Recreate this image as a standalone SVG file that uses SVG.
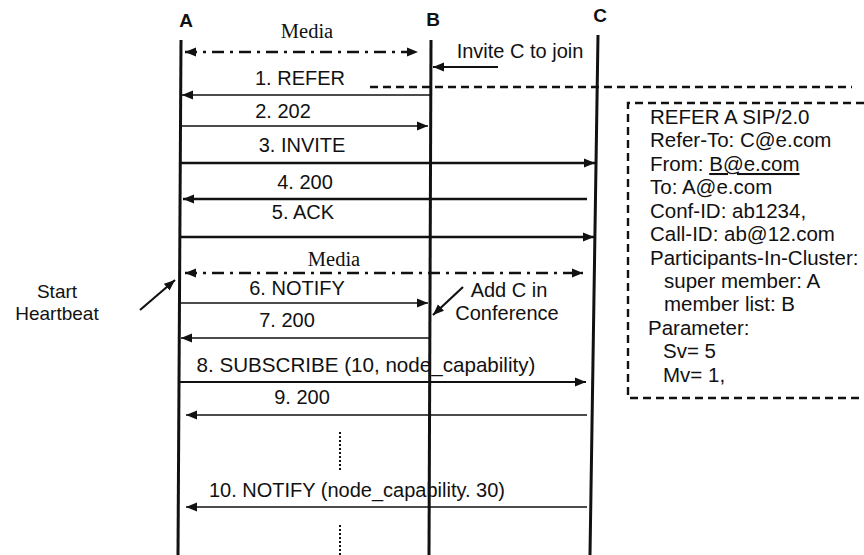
<svg xmlns="http://www.w3.org/2000/svg" width="864" height="555" viewBox="0 0 864 555">
<style>
.t{font-family:"Liberation Sans",Arial,sans-serif;font-size:20px;fill:#111}
.ts{font-family:"Liberation Serif","Times New Roman",serif;font-size:20.5px;fill:#111}
.h{font-family:"Liberation Sans",Arial,sans-serif;font-size:19px;font-weight:bold;fill:#111}
.bx{font-family:"Liberation Sans",Arial,sans-serif;font-size:20.5px;fill:#111}
.life{stroke:#111;stroke-width:3;fill:none}
.m{stroke:#111;stroke-width:1.6;fill:none;marker-end:url(#ah)}
.mt{stroke:#111;stroke-width:2.6;fill:none;marker-end:url(#ah)}
.dd{stroke:#111;stroke-width:2.6;fill:none;stroke-dasharray:12 6 3 6;marker-start:url(#ah);marker-end:url(#ah)}
.dot{stroke:#111;stroke-width:2;stroke-dasharray:2 2;fill:none}
.dash{stroke:#111;stroke-width:2.4;stroke-dasharray:8 5;fill:none}
</style>
<defs>
<marker id="ah" markerUnits="userSpaceOnUse" markerWidth="12" markerHeight="10" refX="11" refY="5" orient="auto-start-reverse">
<path d="M0,0.5 L11,5 L0,9.5 z" fill="#111"/>
</marker>
</defs>
<rect width="864" height="555" fill="#fff"/>
<g id="A">
<text class="h" x="186" y="27" text-anchor="middle">A</text>
<line class="life" x1="181" y1="40" x2="178" y2="555"/>
</g>
<g id="B">
<text class="h" x="433" y="26" text-anchor="middle">B</text>
<line class="life" x1="431" y1="40" x2="429" y2="555"/>
</g>
<g id="C">
<text class="h" x="600" y="22" text-anchor="middle">C</text>
<line class="life" x1="598" y1="35" x2="590" y2="555"/>
</g>
<g id="refer-box">
<path class="dash" d="M864,103 H628 V398 H864"/>
<text class="bx" x="650" y="124">REFER A SIP/2.0</text>
<text class="bx" x="650" y="147">Refer-To: C@e.com</text>
<text class="bx" x="650" y="171">From: <tspan text-decoration="underline">B@e.com</tspan></text>
<text class="bx" x="650" y="194">To: A@e.com</text>
<text class="bx" x="650" y="218">Conf-ID: ab1234,</text>
<text class="bx" x="650" y="241">Call-ID: ab@12.com</text>
<text class="bx" x="650" y="265">Participants-In-Cluster:</text>
<text class="bx" x="664" y="288">super member: A</text>
<text class="bx" x="664" y="311">member list: B</text>
<text class="bx" x="648" y="335">Parameter:</text>
<text class="bx" x="663" y="358">Sv= 5</text>
<text class="bx" x="663" y="382">Mv= 1,</text>
</g>
<g id="notes">
<text class="t" x="520" y="58" text-anchor="middle">Invite C to join</text>
<text class="t" x="57" y="298" text-anchor="middle" style="font-size:19px">Start</text>
<text class="t" x="57" y="320" text-anchor="middle" style="font-size:19px">Heartbeat</text>
<text class="t" x="509" y="297" text-anchor="middle">Add C in</text>
<text class="t" x="507" y="320" text-anchor="middle">Conference</text>
</g>
<g id="connectors">
<line class="dd" x1="185" y1="52" x2="418" y2="52"/>
<text class="ts" x="307" y="38" text-anchor="middle">Media</text>
<line class="mt" x1="498" y1="67" x2="433" y2="67" style="stroke-width:2"/>
<line class="dash" x1="370" y1="87" x2="852" y2="87"/>
<text class="t" x="300" y="85" text-anchor="middle">1. REFER</text>
<line class="m" x1="430" y1="95" x2="182" y2="95"/>
<text class="t" x="283" y="118" text-anchor="middle">2. 202</text>
<line class="m" x1="181" y1="126" x2="428" y2="126"/>
<text class="t" x="302" y="152" text-anchor="middle">3. INVITE</text>
<line class="mt" x1="181" y1="163" x2="595" y2="163"/>
<text class="t" x="305" y="189" text-anchor="middle">4. 200</text>
<line class="mt" x1="587" y1="199" x2="183" y2="199"/>
<text class="t" x="303" y="219" text-anchor="middle">5. ACK</text>
<line class="mt" x1="180" y1="237" x2="594" y2="237"/>
<text class="ts" x="334" y="266" text-anchor="middle">Media</text>
<line class="dd" x1="185" y1="273" x2="583" y2="273"/>
<text class="t" x="297" y="295" text-anchor="middle">6. NOTIFY</text>
<line class="m" x1="180" y1="303" x2="428" y2="303"/>
<text class="t" x="287" y="327" text-anchor="middle">7. 200</text>
<line class="m" x1="430" y1="338" x2="181" y2="338"/>
<text class="t" x="366" y="372" text-anchor="middle" style="font-size:20.6px">8. SUBSCRIBE (10, node_capability)</text>
<line class="m" x1="179" y1="382" x2="586" y2="382" style="stroke-width:2"/>
<text class="t" x="302" y="404" text-anchor="middle">9. 200</text>
<line class="m" x1="587" y1="415" x2="186" y2="415"/>
<line class="dot" x1="340" y1="432" x2="340" y2="470"/>
<text class="t" x="357" y="497" text-anchor="middle">10. NOTIFY (node_capability. 30)</text>
<line class="m" x1="587" y1="507" x2="186" y2="507"/>
<line class="dot" x1="340" y1="525" x2="340" y2="555"/>
<line class="m" x1="140" y1="310" x2="175" y2="280" style="stroke-width:2.2"/>
<line class="m" x1="463" y1="287" x2="433" y2="315" style="stroke-width:2.2"/>
</g>
</svg>
